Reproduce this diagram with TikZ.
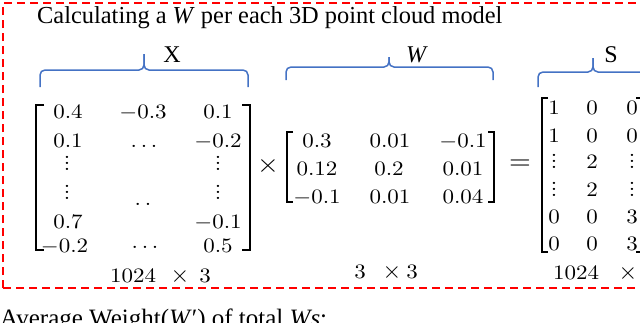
\documentclass[tikz,border=0pt]{standalone}
\usepackage[no-math]{fontspec}
\newfontfamily\tnr{Liberation Serif}
\definecolor{bracecol}{HTML}{4472C4}
\definecolor{framered}{HTML}{FF0000}
\newcommand\mt[1]{\scalebox{2.3}[2.05]{$#1$}}
\newcommand\myvd{\scalebox{2.3}[2.05]{\vbox{\baselineskip=2.9pt\lineskiplimit=-20pt\hbox{.}\hbox{.}\hbox{.}}}}
\tikzset{
  ent/.style={inner sep=0pt, anchor=base, font=\fontsize{10}{12}\selectfont},
  vd/.style={inner sep=0pt, anchor=center, font=\fontsize{10}{12}\selectfont},
  op/.style={inner sep=0pt, anchor=center, font=\fontsize{10}{12}\selectfont},
  lbl/.style={inner sep=0pt, font=\tnr\fontsize{24}{28}\selectfont},
  bracebox/.style={draw=bracecol, line width=1.5pt, rounded corners=5pt},
  brk/.style={draw=black, line width=2pt, line join=miter},
  frame/.style={draw=framered, line width=2pt, dash pattern=on 8pt off 5pt}
}
\begin{document}
\begin{tikzpicture}[x=1pt,y=-1pt]
\useasboundingbox (0,0) rectangle (640,322);
\clip (0,0) rectangle (640,322);
% frame
\draw[frame] (3,288) -- (3,3) -- (660,3);
\draw[frame] (3,288) -- (660,288);
% title
\node[lbl, anchor=base west, font=\tnr\fontsize{24.4}{28}\selectfont] (title) at (37,23) {Calculating a \textit{W} per each 3D point cloud model};
% braces
\draw[bracebox] (40,87) |- (144,70) -- (144,54);
\draw[bracebox] (248,87) |- (144,70) -- (144,54);
\draw[bracebox] (286,80) |- (389,67) -- (389,57);
\draw[bracebox] (493,80) |- (389,67) -- (389,57);
\draw[bracebox] (538,87) |- (593,72) -- (593,58);
\draw[bracebox] (660,87) |- (593,72) -- (593,58);
\node[lbl] (lx) at (172,55) {X};
\node[lbl] (lw) at (417,55) {\textit{W}};
\node[lbl] (ls) at (611,55) {S};
% brackets
\draw[brk] (44,105) -- (36,105) -- (36,250) -- (44,250);
\draw[brk] (242,105) -- (250,105) -- (250,250) -- (242,250);
\draw[brk] (293,132) -- (287,132) -- (287,202) -- (293,202);
\draw[brk] (488,132) -- (494,132) -- (494,202) -- (488,202);
\draw[brk] (548,98) -- (542,98) -- (542,252) -- (548,252);
\draw[brk] (636,98) -- (642,98) -- (642,252) -- (636,252);
% X entries
\node[ent] (x11) at (68,118) {\mt{0.4}};
\node[ent] (x12) at (143,118) {\mt{-0.3}};
\node[ent] (x13) at (218,118) {\mt{0.1}};
\node[ent] (x21) at (68,147) {\mt{0.1}};
\node[ent] (x22) at (144,147) {\mt{\ldots}};
\node[ent] (x23) at (218,147) {\mt{-0.2}};
\node[vd] (x31) at (67,163) {\myvd};
\node[vd] (x33) at (218,163) {\myvd};
\node[vd] (x41) at (67,192) {\myvd};
\node[ent] (x42) at (143,205) {\mt{.\,.}};
\node[vd] (x43) at (218,192) {\myvd};
\node[ent] (x51) at (68,228) {\mt{0.7}};
\node[ent] (x53) at (218,228) {\mt{-0.1}};
\node[ent] (x61) at (64.5,252) {\mt{-0.2}};
\node[ent] (x62) at (145,252) {\mt{\cdots}};
\node[ent] (x63) at (218,252) {\mt{0.5}};
% operators
\node[op] (times) at (268,166) {\scalebox{2.8}[2.6]{$\times$}};
\node[op] (equals) at (520,165) {\scalebox{2.8}[2.6]{$=$}};
% W entries
\node[ent] (w11) at (317,147) {\mt{0.3}};
\node[ent] (w12) at (390,147) {\mt{0.01}};
\node[ent] (w13) at (463,147) {\mt{-0.1}};
\node[ent] (w21) at (317,175) {\mt{0.12}};
\node[ent] (w22) at (389,175) {\mt{0.2}};
\node[ent] (w23) at (463,175) {\mt{0.01}};
\node[ent] (w31) at (317,203) {\mt{-0.1}};
\node[ent] (w32) at (390,203) {\mt{0.01}};
\node[ent] (w33) at (463,203) {\mt{0.04}};
% S entries
\node[ent] (s11) at (554,114) {\mt{1}};
\node[ent] (s12) at (592,114) {\mt{0}};
\node[ent] (s13) at (632,114) {\mt{0}};
\node[ent] (s21) at (554,142) {\mt{1}};
\node[ent] (s22) at (592,142) {\mt{0}};
\node[ent] (s23) at (632,142) {\mt{0}};
\node[vd] (s31) at (554,161) {\myvd};
\node[ent] (s32) at (592,168) {\mt{2}};
\node[vd] (s33) at (632,161) {\myvd};
\node[vd] (s41) at (554,189) {\myvd};
\node[ent] (s42) at (592,196) {\mt{2}};
\node[vd] (s43) at (632,189) {\myvd};
\node[ent] (s51) at (554,223) {\mt{0}};
\node[ent] (s52) at (592,223) {\mt{0}};
\node[ent] (s53) at (632,223) {\mt{3}};
\node[ent] (s61) at (554,250) {\mt{0}};
\node[ent] (s62) at (592,250) {\mt{0}};
\node[ent] (s63) at (632,250) {\mt{3}};
% dimensions
\node[ent] (dxa) at (133,282) {\mt{1024}};
\node[ent] (dxb) at (180,282) {\scalebox{2.4}{$\times$}};
\node[ent] (dxc) at (205,282) {\mt{3}};
\node[ent] (dwa) at (360,278) {\mt{3}};
\node[ent] (dwb) at (392,278) {\scalebox{2.4}{$\times$}};
\node[ent] (dwc) at (412,278) {\mt{3}};
\node[ent] (dsa) at (576,279) {\mt{1024}};
\node[ent] (dsb) at (628,279) {\scalebox{2.4}{$\times$}};
% bottom text
\node[lbl, anchor=base west, font=\tnr\fontsize{25}{29}\selectfont] (avg) at (0,326) {Average Weight(\textit{W}′) of total \textit{Ws}:};
\end{tikzpicture}
\end{document}
